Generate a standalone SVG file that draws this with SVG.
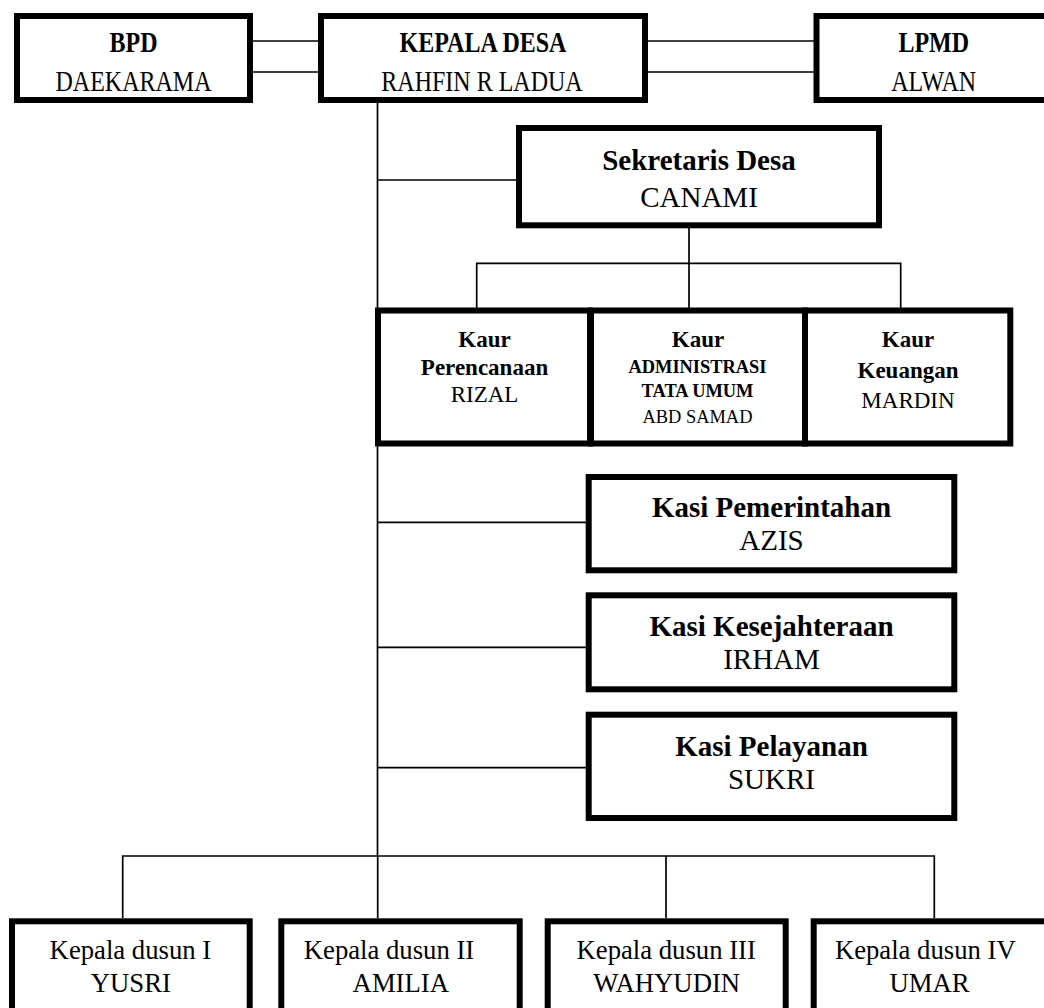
<svg xmlns="http://www.w3.org/2000/svg" width="1044" height="1008" viewBox="0 0 1044 1008">
<style>
.box{fill:#fff;stroke:#000;stroke-width:6}
.ln{stroke:#000;stroke-width:1.7;fill:none}
text{font-family:"Liberation Serif","Times New Roman",serif;fill:#000;text-anchor:middle}
.b{font-weight:bold}
.t24{font-size:24px}
.t29{font-size:29px}
.t23{font-size:23px}
.t18{font-size:18.4px}
.t27{font-size:26.7px}
</style>
<rect width="1044" height="1008" fill="#fff"/>
<g id="connectors">
<line class="ln" x1="253" y1="41" x2="318" y2="41"/>
<line class="ln" x1="253" y1="72" x2="318" y2="72"/>
<line class="ln" x1="648" y1="41" x2="814" y2="41"/>
<line class="ln" x1="648" y1="72" x2="814" y2="72"/>
<line class="ln" x1="377.5" y1="103" x2="377.5" y2="856"/>
<line class="ln" x1="377.5" y1="180" x2="516" y2="180"/>
<line class="ln" x1="689" y1="228" x2="689" y2="308"/>
<polyline class="ln" points="476.7,308 476.7,263.3 900.7,263.3 900.7,308"/>
<line class="ln" x1="377.5" y1="522.3" x2="586" y2="522.3"/>
<line class="ln" x1="377.5" y1="647.3" x2="586" y2="647.3"/>
<line class="ln" x1="377.5" y1="767.7" x2="586" y2="767.7"/>
<polyline class="ln" points="122.7,918 122.7,856 934.3,856 934.3,918"/>
<line class="ln" x1="377.7" y1="856" x2="377.7" y2="918"/>
<line class="ln" x1="666" y1="856" x2="666" y2="918"/>
</g>
<g id="bpd">
<rect class="box" x="17" y="16" width="233" height="84"/>
<text class="b t24" transform="translate(133.5,51.5) scale(1,1.22)">BPD</text>
<text class="t24" transform="translate(133.5,91) scale(1,1.22)">DAEKARAMA</text>
</g>
<g id="kepala-desa">
<rect class="box" x="321" y="16" width="324" height="84"/>
<text class="b t24" transform="translate(483,51.5) scale(1,1.22)">KEPALA DESA</text>
<text class="t24" transform="translate(482,91) scale(1,1.22)">RAHFIN R LADUA</text>
</g>
<g id="lpmd">
<rect class="box" x="816.5" y="16" width="240" height="84"/>
<text class="b t24" transform="translate(933.7,51.5) scale(1,1.22)">LPMD</text>
<text class="t24" transform="translate(933.7,91) scale(1,1.22)">ALWAN</text>
</g>
<g id="sekretaris">
<rect class="box" x="519" y="128" width="360" height="97.3"/>
<text class="b t29" x="699" y="170">Sekretaris Desa</text>
<text class="t29" x="699" y="207">CANAMI</text>
</g>
<g id="kaur-perencanaan">
<rect class="box" x="378" y="310.5" width="212" height="133"/>
<text class="b t23" x="484.5" y="347">Kaur</text>
<text class="b t23" x="484.5" y="375">Perencanaan</text>
<text class="t23" x="484.5" y="402">RIZAL</text>
</g>
<g id="kaur-administrasi">
<rect class="box" x="591" y="310.5" width="214" height="133"/>
<text class="b t23" x="698" y="347">Kaur</text>
<text class="b t18" x="697.5" y="373.3">ADMINISTRASI</text>
<text class="b t18" x="697.5" y="397.3">TATA UMUM</text>
<text class="t18" x="697.5" y="422.7">ABD SAMAD</text>
</g>
<g id="kaur-keuangan">
<rect class="box" x="805" y="310.5" width="205.3" height="133"/>
<text class="b t23" x="908" y="347">Kaur</text>
<text class="b t23" x="908" y="378">Keuangan</text>
<text class="t23" x="908" y="408">MARDIN</text>
</g>
<g id="kasi-pemerintahan">
<rect class="box" x="588.7" y="477" width="365.6" height="93.3"/>
<text class="b t29" x="771.5" y="517">Kasi Pemerintahan</text>
<text class="t29" x="771.5" y="550">AZIS</text>
</g>
<g id="kasi-kesejahteraan">
<rect class="box" x="588.7" y="595.3" width="365.6" height="94"/>
<text class="b t29" x="771.5" y="636">Kasi Kesejahteraan</text>
<text class="t29" x="771.5" y="669">IRHAM</text>
</g>
<g id="kasi-pelayanan">
<rect class="box" x="588.7" y="714.7" width="365.6" height="103.3"/>
<text class="b t29" x="771.5" y="755.5">Kasi Pelayanan</text>
<text class="t29" x="771.5" y="789">SUKRI</text>
</g>
<g id="dusun-1">
<rect class="box" x="12" y="921.3" width="237.7" height="100"/>
<text class="t27" x="130.4" y="959">Kepala dusun I</text>
<text class="t27" x="130.8" y="991.5">YUSRI</text>
</g>
<g id="dusun-2">
<rect class="box" x="281.3" y="921.3" width="238.4" height="100"/>
<text class="t27" x="389" y="959">Kepala dusun II</text>
<text class="t27" x="400.8" y="991.5">AMILIA</text>
</g>
<g id="dusun-3">
<rect class="box" x="547.7" y="921.3" width="238" height="100"/>
<text class="t27" x="666.2" y="959">Kepala dusun III</text>
<text class="t27" x="666.7" y="991.5">WAHYUDIN</text>
</g>
<g id="dusun-4">
<rect class="box" x="813.7" y="921.3" width="238" height="100"/>
<text class="t27" x="925.3" y="959">Kepala dusun IV</text>
<text class="t27" x="929.5" y="991.5">UMAR</text>
</g>
</svg>
